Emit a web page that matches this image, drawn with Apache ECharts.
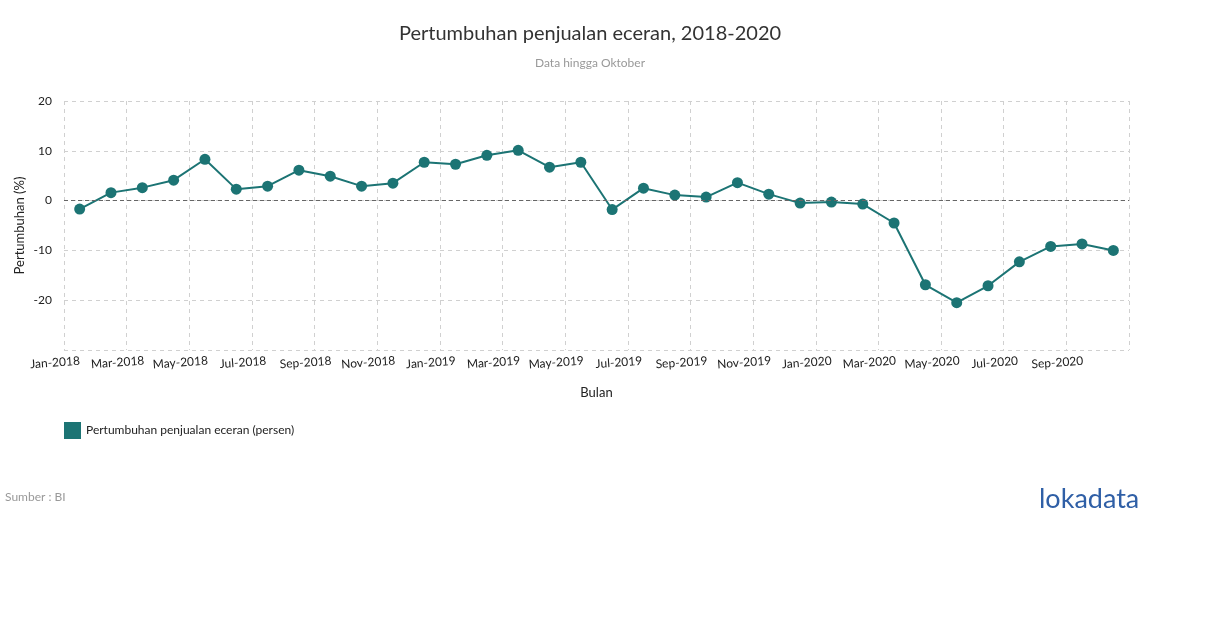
<!DOCTYPE html>
<html>
<head>
<meta charset="utf-8">
<script src="https://cdn.jsdelivr.net/npm/echarts@6/dist/echarts.min.js"></script>
<style>
html,body{margin:0;padding:0;background:#fff;}
#chart{width:1210px;height:628px;}
</style>
</head>
<body>
<div id="chart"></div>
<script>
// Monthly categories, Jan-2018 .. Oct-2020
const monthNames = ['Jan','Feb','Mar','Apr','May','Jun','Jul','Aug','Sep','Oct','Nov','Dec'];
const startYear = 2018;
const growthValues = [
  -1.7, 1.6, 2.6, 4.1, 8.3, 2.3, 2.9, 6.1, 4.9, 2.9, 3.5, 7.7,
  7.3, 9.1, 10.1, 6.7, 7.7, -1.8, 2.5, 1.1, 0.7, 3.6, 1.3, -0.5,
  -0.3, -0.7, -4.5, -16.9, -20.5, -17.1, -12.3, -9.2, -8.7, -10.0
];
const yTicks = [-30, -20, -10, 0, 10, 20];
const seriesName = 'Pertumbuhan penjualan eceran (persen)';
const teal = '#1c7474';

function monthLabel(idx) {
  const y = startYear + Math.floor(idx / 12);
  const m = ((idx % 12) + 12) % 12;
  return monthNames[m] + '-' + y;
}

// points placed mid-month on a month-index axis
const seriesData = growthValues.map((v, i) => [i + 0.5, v]);

const chart = echarts.init(document.getElementById('chart'));
const font = 'Lato, "Open Sans", sans-serif';
chart.setOption({
  animation: false,
  textStyle: { fontFamily: font },
  title: [
    { text: 'Pertumbuhan penjualan eceran, 2018-2020', left: 585, top: 19, textAlign: 'center',
      textStyle: { fontFamily: font, fontSize: 20, fontWeight: 'normal', color: '#333' } },
    { text: 'Data hingga Oktober', left: 585, top: 52, textAlign: 'center',
      textStyle: { fontFamily: font, fontSize: 12, fontWeight: 'normal', color: '#999' } }
  ],
  grid: { left: 64, right: 81, top: 101, bottom: 278, outerBoundsMode: 'none' },
  legend: {
    data: [seriesName], left: 59, top: 417, icon: 'rect', itemWidth: 17, itemHeight: 17, itemGap: 4,
    textStyle: { fontFamily: font, fontSize: 12, color: '#222' }
  },
  xAxis: {
    type: 'value', min: 0, max: growthValues.length, interval: 2,
    name: 'Bulan', nameLocation: 'middle', nameGap: 36,
    nameTextStyle: { fontFamily: font, fontSize: 13, color: '#222' },
    axisLine: { show: false }, axisTick: { show: false },
    axisLabel: {
      showMaxLabel: false, rotate: 4, align: 'center', margin: 12, padding: [0, 18, 0, 0],
      fontFamily: font, fontSize: 12, color: '#222',
      formatter: v => monthLabel(Math.round(v))
    },
    splitLine: { show: true, lineStyle: { color: '#d0d0d0', type: [4, 4], width: 1 } }
  },
  yAxis: {
    type: 'value', min: yTicks[0], max: yTicks[yTicks.length - 1], interval: 10,
    name: 'Pertumbuhan (%)', nameLocation: 'middle', nameGap: 38, nameRotate: 90, nameMoveOverlap: false,
    nameTextStyle: { fontFamily: font, fontSize: 13, color: '#222' },
    axisLine: { show: false }, axisTick: { show: false },
    axisLabel: { margin: 12, fontFamily: font, fontSize: 12, color: '#222', showMinLabel: false },
    splitLine: { show: true, lineStyle: { color: '#d0d0d0', type: [4, 4], width: 1 } }
  },
  series: [{
    name: seriesName, type: 'line', data: seriesData,
    symbol: 'circle', symbolSize: 11,
    lineStyle: { color: teal, width: 2 },
    itemStyle: { color: teal },
    markLine: {
      silent: true, symbol: 'none', label: { show: false },
      lineStyle: { color: '#666', type: [4, 3], width: 1 },
      data: [{ yAxis: 0 }]
    },
    z: 3
  }],
  graphic: [
    { type: 'text', left: 5, top: 491, style: { text: 'Sumber : BI', fontFamily: font, fontSize: 12, fill: '#999' } },
    { type: 'text', left: 1039, top: 486, style: { text: 'lokadata', fontFamily: font, fontSize: 27, fill: '#2f5fa6' } }
  ]
});
</script>
</body>
</html>
